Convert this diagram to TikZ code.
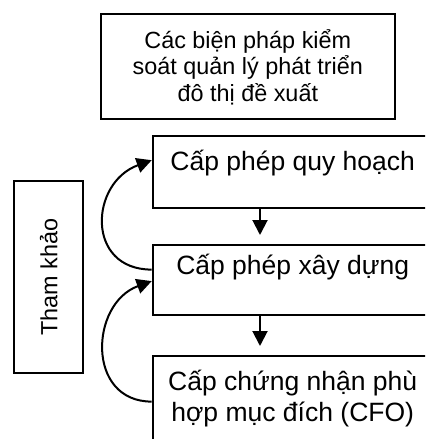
\documentclass[tikz,border=0pt]{standalone}
\usepackage{fontspec}
\setmainfont{Liberation Sans}
\usetikzlibrary{arrows.meta, positioning}

\begin{document}
\begin{tikzpicture}[
    box/.style={draw, line width=1pt, inner sep=0pt, minimum width=140pt, align=center, font=\fontsize{13.25pt}{15.2pt}\selectfont},
    flow/.style={line width=1pt, -{Triangle[length=7.5pt, width=7.5pt]}, shorten >=4.3pt},
    back/.style={line width=1pt, -{Triangle[length=7.5pt, width=7.5pt]}}]
  \clip (0,0) rectangle (212.5pt,-219.5pt);
  \node[draw, line width=1pt, inner sep=0pt, minimum width=147.25pt, text height=43.35pt, text depth=9.15pt, align=center, font=\fontsize{11.7pt}{13.15pt}\selectfont, anchor=north] (prop) at (123.9pt,-6.65pt) {Các biện pháp kiểm\\soát quản lý phát triển\\đô thị đề xuất};
  % permit steps, cut off on the right
  \node[box, text height=17pt, text depth=18.8pt, anchor=north west] (qh) at (75.85pt,-67.5pt) {Cấp phép quy hoạch};
  \node[box, text height=14.8pt, text depth=20.5pt, below=17.5pt of qh] (xd) {Cấp phép xây dựng};
  \node[box, text height=32.7pt, text depth=25pt, below=19.2pt of xd] (cfo) {Cấp chứng nhận phù\\hợp mục đích (CFO)};
  \node[draw, line width=1pt, rotate=90, minimum width=96pt, minimum height=34.5pt, font=\fontsize{11.7pt}{13.15pt}\selectfont] (ref) at (24.4pt,-138.6pt) {Tham khảo};
  \draw[flow] ([xshift=-16.35pt]qh.south) -- ([xshift=-16.35pt]xd.north);
  \draw[flow] ([xshift=-16.35pt]xd.south) -- ([xshift=-16.35pt]cfo.north);
  \draw[back] ([yshift=5.15pt]xd.west) to[out=180, in=200, looseness=1.55] ([yshift=5.8pt]qh.west);
  \draw[back] ([yshift=-23.5pt]cfo.north west) to[out=180, in=200, looseness=1.4] ([yshift=-0.6pt]xd.west);
\end{tikzpicture}
\end{document}
